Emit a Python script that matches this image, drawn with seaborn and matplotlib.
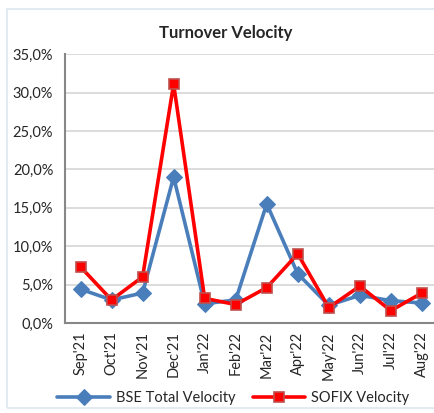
import pandas as pd
import matplotlib.pyplot as plt
import seaborn as sns
import numpy as np
from matplotlib.patches import Rectangle
from matplotlib.ticker import FuncFormatter

# Monthly turnover velocity, in percent
months = ["Sep'21", "Oct'21", "Nov'21", "Dec'21", "Jan'22", "Feb'22",
          "Mar'22", "Apr'22", "May'22", "Jun'22", "Jul'22", "Aug'22"]
bse_velocity = [4.4, 3.0, 3.9, 19.0, 2.5, 3.0, 15.5, 6.4, 2.3, 3.6, 2.9, 2.6]
sofix_velocity = [7.3, 3.0, 6.0, 31.1, 3.2, 2.4, 4.6, 9.0, 2.0, 4.8, 1.6, 3.9]

df = pd.DataFrame({'pos': np.arange(len(months)),
                   'BSE Total Velocity': bse_velocity,
                   'SOFIX Velocity': sofix_velocity})

sns.set_style("white")
plt.rcParams['font.family'] = ['Lato', 'DejaVu Sans']

fig = plt.figure(figsize=(4.34, 4.13), dpi=100)
ax = fig.add_axes([0.1498, 0.218, 0.858, 0.651])

# chart frame
fig.patches.append(Rectangle((7 / 434, 5 / 413), 1.0, 399 / 413, transform=fig.transFigure,
                             fill=False, edgecolor='#dde6f0', linewidth=1.2, zorder=0))

sns.lineplot(data=df, x='pos', y='BSE Total Velocity', ax=ax, color='#4a7ebb',
             linewidth=2.6, marker='D', markersize=8, markeredgecolor='#4a7ebb',
             label='BSE Total Velocity', zorder=3)
sns.lineplot(data=df, x='pos', y='SOFIX Velocity', ax=ax, color='#ff0000',
             linewidth=2.6, marker='s', markersize=7, markeredgecolor='#c0504d',
             markeredgewidth=1.2, label='SOFIX Velocity', zorder=4)

ax.set_xlim(-0.5, len(months) - 0.5)
ax.set_ylim(0, 35)
ax.set_yticks(np.arange(0, 36, 5))
ax.yaxis.set_major_formatter(FuncFormatter(lambda v, p: f"{v:.1f}%".replace('.', ',')))
ax.set_xticks(np.arange(len(months)))
ax.set_xticklabels(months, rotation=90, fontsize=10.5)
ax.set_xticks(np.arange(-0.5, len(months), 1), minor=True)
ax.tick_params(axis='x', which='major', length=0, pad=6)
ax.tick_params(axis='x', which='minor', length=5, width=1.2, color='#878787')
ax.tick_params(axis='y', which='major', length=5, width=1.2, color='#878787', labelsize=10.5)
ax.set_xlabel('')
ax.set_ylabel('')

ax.grid(axis='y', color='#d9d9d9', linewidth=1.3)
ax.set_axisbelow(True)
for s in ['top', 'right']:
    ax.spines[s].set_visible(False)
for s in ['left', 'bottom']:
    ax.spines[s].set_color('#878787')
    ax.spines[s].set_linewidth(1.5)

fig.text(226 / 434, 1 - 33 / 413, 'Turnover Velocity', fontsize=12, fontweight='bold',
         ha='center', va='center')
ax.legend(loc='upper center', bbox_to_anchor=(0.452, -0.205), ncol=2, frameon=False,
          fontsize=10.5, handlelength=3.6, columnspacing=1.2, handletextpad=0.4)

fig.savefig('out.png', dpi=100)
